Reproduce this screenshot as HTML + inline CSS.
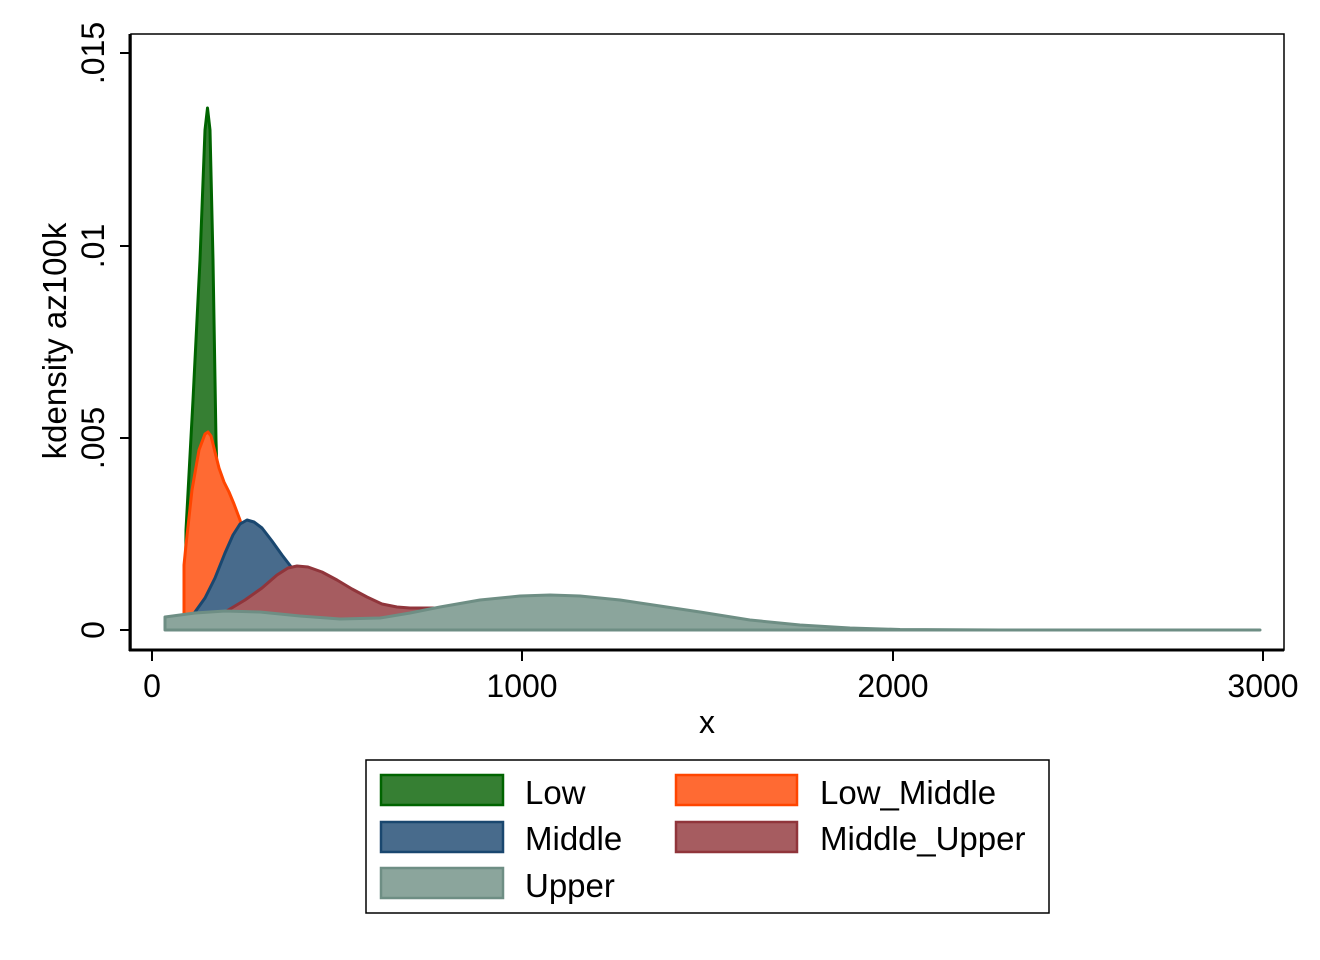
<!DOCTYPE html>
<html><head><meta charset="utf-8"><style>
html,body{margin:0;padding:0;background:#fff;}
svg{display:block;font-family:"Liberation Sans",Arial,sans-serif;}
</style></head><body>
<svg width="1320" height="960" viewBox="0 0 1320 960" xmlns="http://www.w3.org/2000/svg">
<rect width="1320" height="960" fill="#fff"/>
<path d="M185,630 L186,530 L193,400 L200,260 L205,130 L207.5,108 L210,130 L213,260 L216,440 L219,540 L222,630 Z" fill="#367f33" stroke="#006400" stroke-width="3" stroke-linejoin="round"/>
<path d="M184,630 L184,565 L186,545 L192,490 L199,450 L205,434 L208,432 L211,436 L215,452 L219,468 L224,482 L229,492 L234,504 L240,520 L250,560 L262,610 L270,630 Z" fill="#ff6a33" stroke="#ff4500" stroke-width="3" stroke-linejoin="round"/>
<path d="M186,630 L195,612 L205,598 L215,578 L225,553 L233,535 L240,524 L247,520 L254,522 L262,528 L272,541 L282,555 L292,568 L305,585 L325,605 L350,620 L380,630 Z" fill="#486b8c" stroke="#1a476f" stroke-width="3" stroke-linejoin="round"/>
<path d="M200,630 L205,622 L225,612 L245,600 L262,588 L277,575 L288,568 L297,566 L308,567 L322,572 L337,580 L352,589 L367,597 L382,604 L397,607 L410,608 L440,608 L470,609 L500,612 L600,622 L700,630 Z" fill="#a65c60" stroke="#90353b" stroke-width="3" stroke-linejoin="round"/>
<path d="M165,630 L165,617 L195,613 L225,611 L260,612 L300,616 L340,619 L380,618 L410,613 L440,607 L480,600 L520,596 L550,595 L580,596 L620,600 L660,606 L700,612 L750,620 L800,625 L850,628 L900,629.5 L1000,630 L1260,630 Z" fill="#8ba59c" stroke="#6e8e84" stroke-width="3" stroke-linejoin="round"/>
<rect x="131" y="34" width="1153" height="616" fill="none" stroke="#000" stroke-width="1.5"/>
<line x1="130" y1="34" x2="130" y2="651" stroke="#000" stroke-width="3"/>
<line x1="129" y1="650" x2="1284" y2="650" stroke="#000" stroke-width="3"/>
<g stroke="#000" stroke-width="2">
<line x1="120" y1="630" x2="130" y2="630"/>
<line x1="120" y1="438" x2="130" y2="438"/>
<line x1="120" y1="246" x2="130" y2="246"/>
<line x1="120" y1="53" x2="130" y2="53"/>
<line x1="152" y1="650" x2="152" y2="661"/>
<line x1="522" y1="650" x2="522" y2="661"/>
<line x1="893" y1="650" x2="893" y2="661"/>
<line x1="1263" y1="650" x2="1263" y2="661"/>
</g>
<g font-size="32" fill="#000" text-anchor="middle">
<text transform="translate(104,630) rotate(-90)">0</text>
<text transform="translate(104,438) rotate(-90)">.005</text>
<text transform="translate(104,246) rotate(-90)">.01</text>
<text transform="translate(104,53) rotate(-90)">.015</text>
<text transform="translate(66,341) rotate(-90)" font-size="33">kdensity az100k</text>
<text x="152" y="697">0</text>
<text x="522" y="697">1000</text>
<text x="893" y="697">2000</text>
<text x="1263" y="697">3000</text>
<text x="707" y="733">x</text>
</g>
<rect x="366" y="760" width="683" height="153" fill="#fff" stroke="#000" stroke-width="1.5"/>
<rect x="381" y="775" width="122" height="30" fill="#367f33" stroke="#006400" stroke-width="2.5"/>
<rect x="676" y="775" width="121" height="30" fill="#ff6a33" stroke="#ff4500" stroke-width="2.5"/>
<rect x="381" y="822" width="122" height="30" fill="#486b8c" stroke="#1a476f" stroke-width="2.5"/>
<rect x="676" y="822" width="121" height="30" fill="#a65c60" stroke="#90353b" stroke-width="2.5"/>
<rect x="381" y="868" width="122" height="30" fill="#8ba59c" stroke="#6e8e84" stroke-width="2.5"/>
<g font-size="33" fill="#000">
<text x="525" y="804">Low</text>
<text x="820" y="804">Low_Middle</text>
<text x="525" y="850">Middle</text>
<text x="820" y="850">Middle_Upper</text>
<text x="525" y="897">Upper</text>
</g>
</svg>
</body></html>
